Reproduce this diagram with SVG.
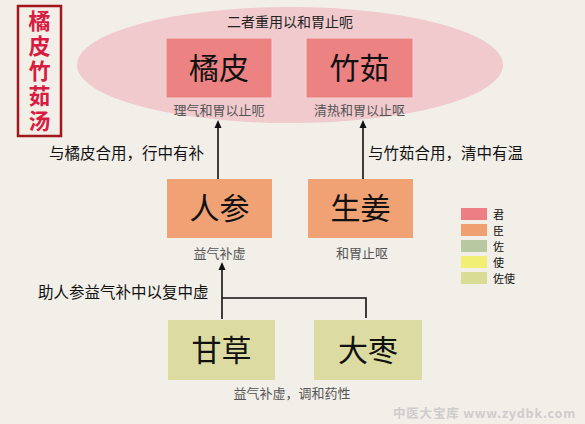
<svg xmlns="http://www.w3.org/2000/svg" width="585" height="424" viewBox="0 0 585 424">
<defs>
<style>
.big{font-family:"Noto Sans CJK SC","Noto Sans CJK JP",sans-serif;font-size:30px;fill:#111;text-anchor:middle;}
.sub{font-family:"Noto Sans CJK SC","Noto Sans CJK JP",sans-serif;font-size:13px;fill:#555;text-anchor:middle;}
.lbl{font-family:"Noto Sans CJK SC","Noto Sans CJK JP",sans-serif;font-size:15.5px;fill:#111;}
.leg{font-family:"Noto Sans CJK SC","Noto Sans CJK JP",sans-serif;font-size:11px;fill:#111;}
.ttl{font-family:"Noto Sans CJK SC","Noto Sans CJK JP",sans-serif;font-size:22px;fill:#d81b40;text-anchor:middle;font-weight:bold;writing-mode:vertical-rl;letter-spacing:3px;}
.line{stroke:#111;stroke-width:1.6;fill:none;}
</style>
<marker id="arr" markerWidth="8" markerHeight="8" refX="4" refY="4" orient="auto" markerUnits="userSpaceOnUse">
<path d="M0,0.5 L8,4 L0,7.5 Z" fill="#111"/>
</marker>
</defs>
<rect width="585" height="424" fill="#f2efe9"/>
<g id="title">
<rect x="18" y="6" width="43" height="130" fill="none" stroke="#a3161c" stroke-width="2.5"/>
<text class="ttl" x="39.5" y="72.5">橘皮竹茹汤</text>
</g>
<g id="group-jun">
<ellipse cx="290" cy="65" rx="213" ry="58" fill="#efc5ca" opacity="0.9"/>
<text x="290" y="27" font-family="Noto Sans CJK SC, sans-serif" font-size="14" fill="#222" text-anchor="middle">二者重用以和胃止呃</text>
</g>
<g id="node-jupi">
<rect x="166" y="38" width="106" height="60" fill="#ec8282" stroke="#f6d3d3" stroke-width="1"/>
<text class="big" x="219" y="79">橘皮</text>
<text class="sub" x="219" y="115">理气和胃以止呃</text>
</g>
<g id="node-zhuru">
<rect x="306" y="38" width="107" height="60" fill="#ec8282" stroke="#f6d3d3" stroke-width="1"/>
<text class="big" x="359.5" y="79">竹茹</text>
<text class="sub" x="359.5" y="115">清热和胃以止呕</text>
</g>
<g id="node-renshen">
<rect x="167" y="179" width="105" height="59" fill="#f0a274"/>
<text class="big" x="219.5" y="219">人参</text>
<text class="sub" x="219.5" y="258">益气补虚</text>
</g>
<g id="node-shengjiang">
<rect x="308" y="179" width="105" height="59" fill="#f0a274"/>
<text class="big" x="360.5" y="219">生姜</text>
<text class="sub" x="362" y="258">和胃止呕</text>
</g>
<g id="node-gancao">
<rect x="168" y="320" width="107" height="60" fill="#dcdca2"/>
<text class="big" x="221.5" y="361">甘草</text>
</g>
<g id="node-dazao">
<rect x="314" y="320" width="108" height="60" fill="#dcdca2"/>
<text class="big" x="368" y="361">大枣</text>
</g>
<text class="sub" x="292" y="398" font-size="14">益气补虚，调和药性</text>
<g id="connectors">
<line class="line" x1="218" y1="179" x2="218" y2="124" marker-end="url(#arr)"/>
<line class="line" x1="363" y1="179" x2="363" y2="124" marker-end="url(#arr)"/>
<line class="line" x1="222" y1="319" x2="222" y2="266" marker-end="url(#arr)"/>
<polyline class="line" points="222,298 366,298 366,318"/>
</g>
<text class="lbl" x="49" y="159">与橘皮合用，行中有补</text>
<text class="lbl" x="368" y="159">与竹茹合用，清中有温</text>
<text class="lbl" x="38" y="298">助人参益气补中以复中虚</text>
<g id="legend">
<rect x="461" y="208" width="26" height="12" fill="#ec7e84"/>
<rect x="461" y="224" width="26" height="12" fill="#f0a070"/>
<rect x="461" y="240" width="26" height="12" fill="#b8c8a0"/>
<rect x="461" y="256" width="26" height="12" fill="#f2f074"/>
<rect x="461" y="272" width="26" height="12" fill="#d8dc94"/>
<text class="leg" x="493" y="218.5">君</text>
<text class="leg" x="493" y="234.5">臣</text>
<text class="leg" x="493" y="250.5">佐</text>
<text class="leg" x="493" y="266.5">使</text>
<text class="leg" x="493" y="282.5">佐使</text>
</g>
<text x="393" y="418" font-family="Noto Sans CJK SC, sans-serif" font-size="12.5" letter-spacing="0.8" fill="#cfcccc" font-weight="bold">中医大宝库 www.zydbk.com</text>
</svg>
